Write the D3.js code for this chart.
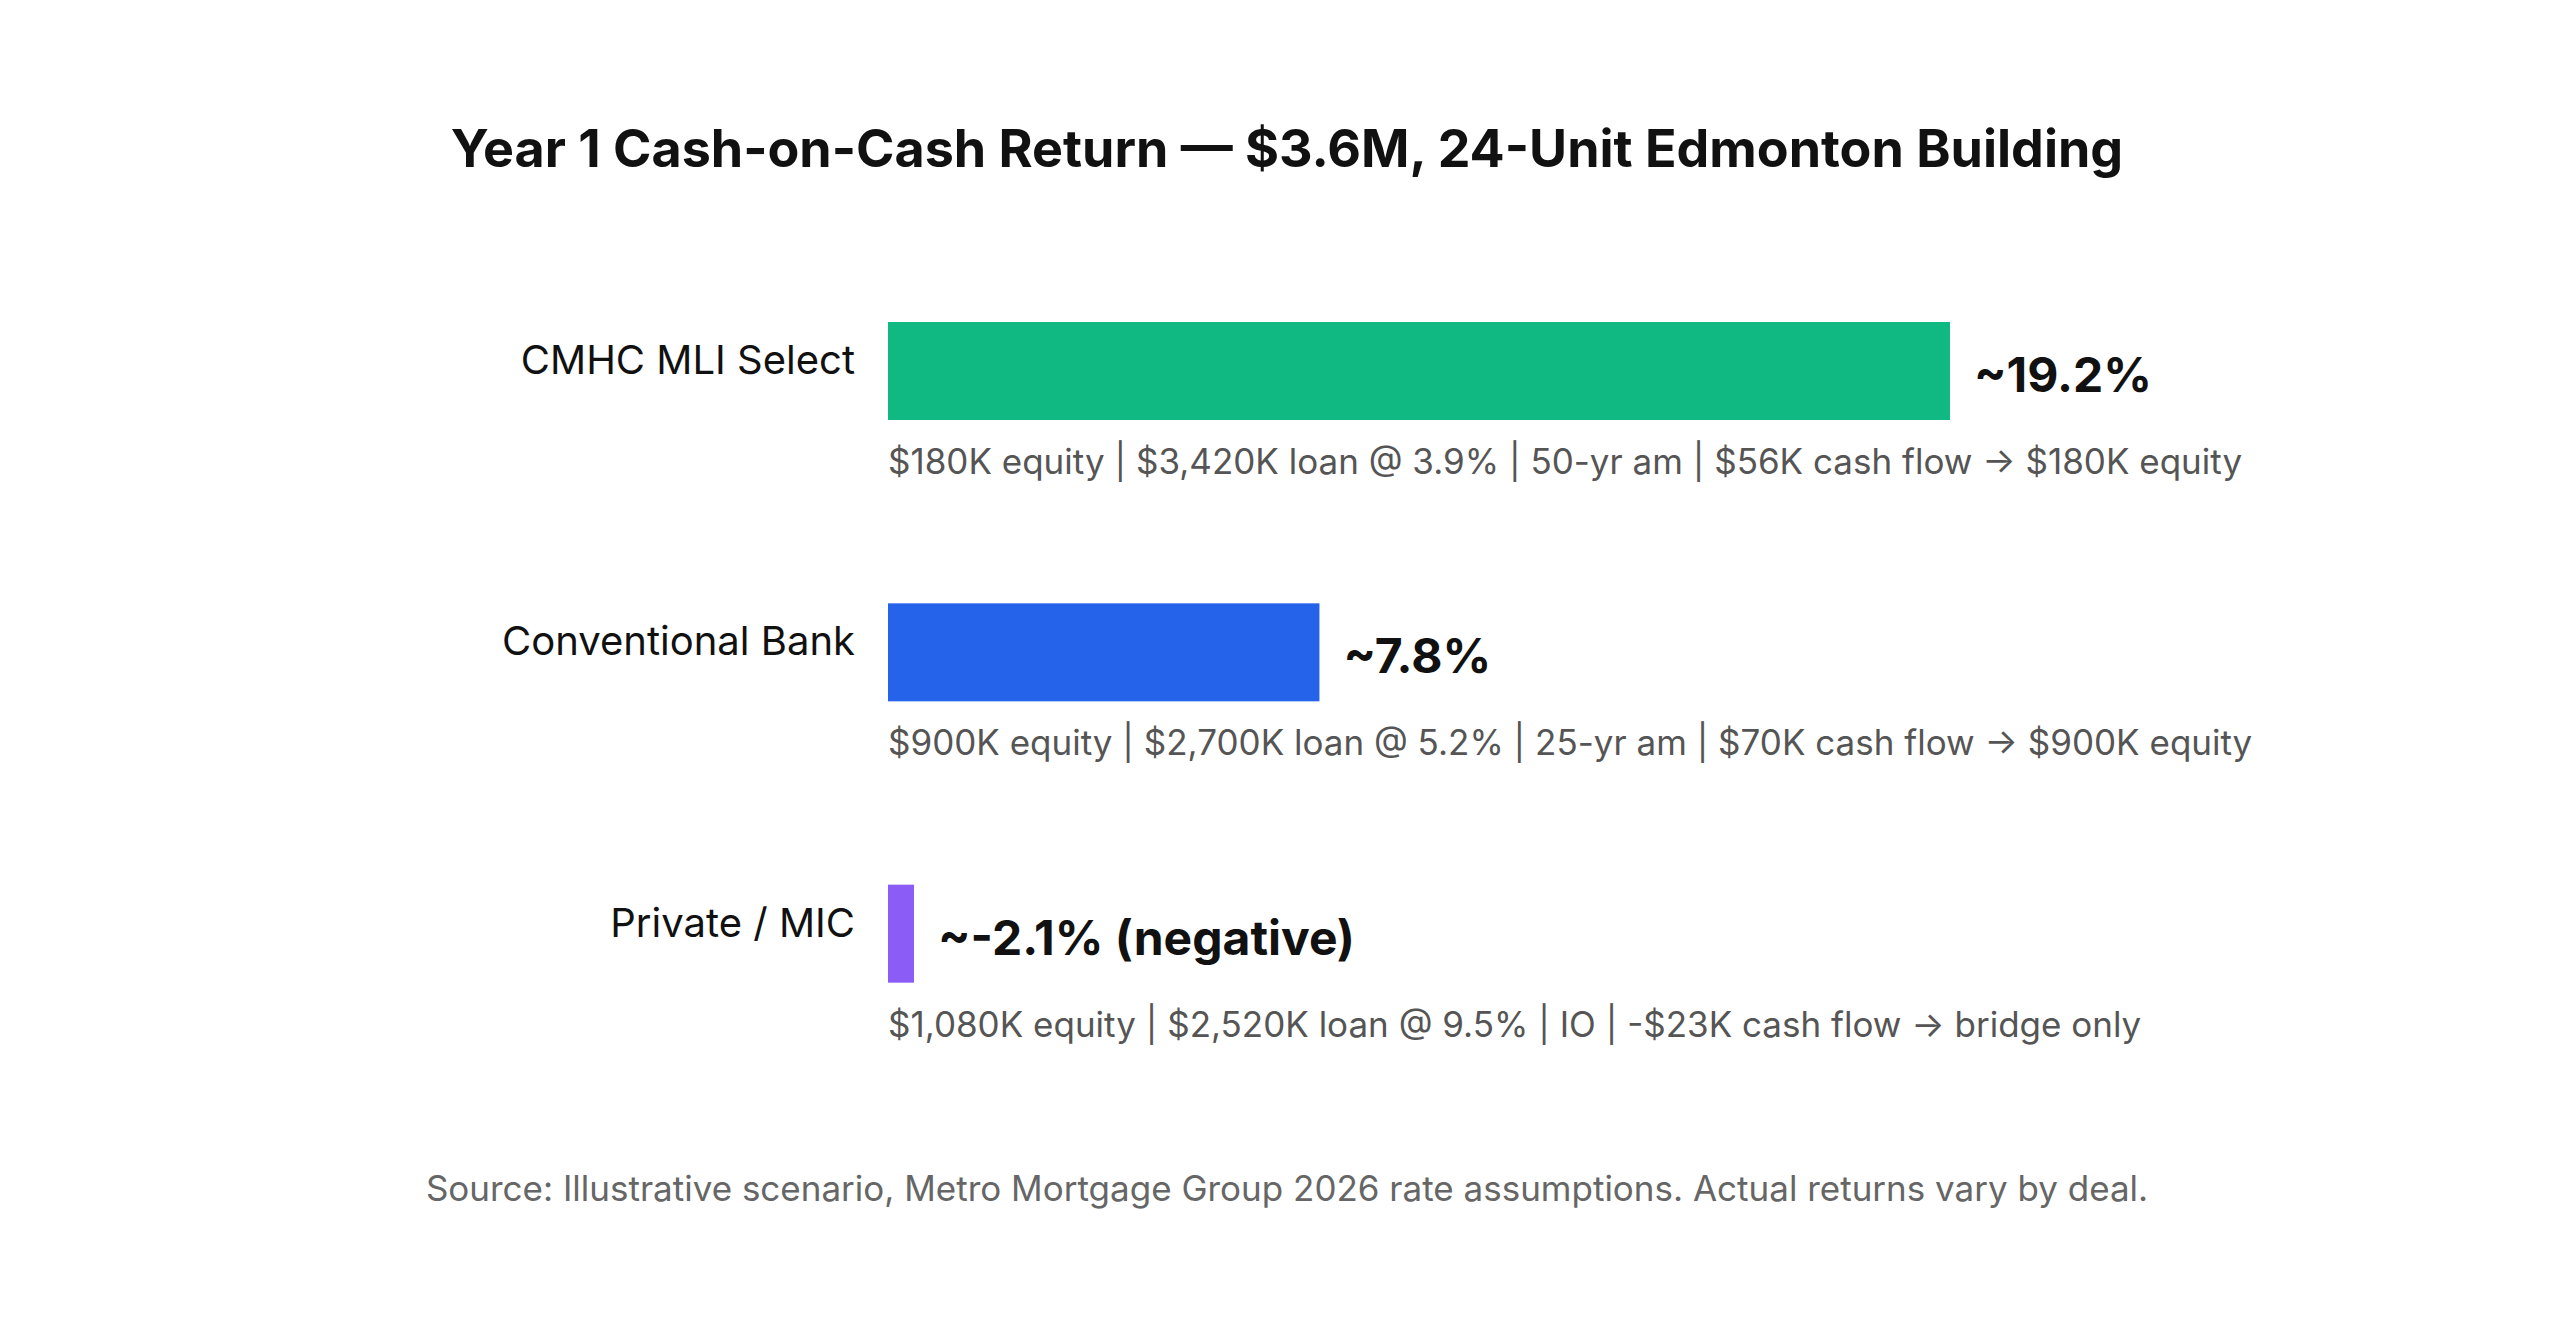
<!DOCTYPE html>
<html><head><meta charset="utf-8">
<script src="https://cdn.jsdelivr.net/npm/d3@7"></script>
<style>body{margin:0;background:#fff;font-family:Inter,"Noto Sans",sans-serif}</style>
</head><body><svg id="c" width="2560" height="1339"></svg>
<script>
const categories = ["CMHC MLI Select","Conventional Bank","Private / MIC"];
const values = [19.2, 7.8, -2.1];
const valueLabels = ["~19.2%","~7.8%","~-2.1% (negative)"];
const details = [
 "$180K equity | $3,420K loan @ 3.9% | 50-yr am | $56K cash flow \u2192 $180K equity",
 "$900K equity | $2,700K loan @ 5.2% | 25-yr am | $70K cash flow \u2192 $900K equity",
 "$1,080K equity | $2,520K loan @ 9.5% | IO | -$23K cash flow \u2192 bridge only"
];
const colors = ["#10b981","#2563eb","#8b5cf6"];
const svg = d3.select("#c");
svg.append("text").attr("x",1287).attr("y",167).attr("text-anchor","middle")
 .attr("font-size",52).attr("font-weight",700).attr("fill","#111")
 .text("Year 1 Cash-on-Cash Return \u2014 $3.6M, 24-Unit Edmonton Building");
const x = d3.scaleLinear().domain([0,19.2]).range([888,1950]);
const y = d3.scaleBand().domain(categories).range([322,1166]).paddingInner(0);
const bh = 98;
const g = svg.selectAll("g.row").data(categories).enter().append("g");
g.append("rect").attr("x",x(0)).attr("y",d=>y(d))
 .attr("width",(d,i)=>Math.max(x(Math.abs(values[i]))-x(0)>0&&values[i]>0?x(values[i])-x(0):26,26))
 .attr("height",bh).attr("fill",(d,i)=>colors[i]);
g.append("text").attr("x",855).attr("y",d=>y(d)+52).attr("text-anchor","end")
 .attr("font-size",40).attr("fill","#111").text(d=>d);
g.append("text").attr("x",(d,i)=>(values[i]>0?x(values[i]):x(0)+26)+24).attr("y",d=>y(d)+70)
 .attr("font-size",48).attr("font-weight",700).attr("fill","#111").text((d,i)=>valueLabels[i]);
g.append("text").attr("x",x(0)).attr("y",d=>y(d)+152)
 .attr("font-size",35).attr("fill","#555").text((d,i)=>details[i]);
svg.append("text").attr("x",1287).attr("y",1201).attr("text-anchor","middle")
 .attr("font-size",35).attr("fill","#666")
 .text("Source: Illustrative scenario, Metro Mortgage Group 2026 rate assumptions. Actual returns vary by deal.");
</script></body></html>
